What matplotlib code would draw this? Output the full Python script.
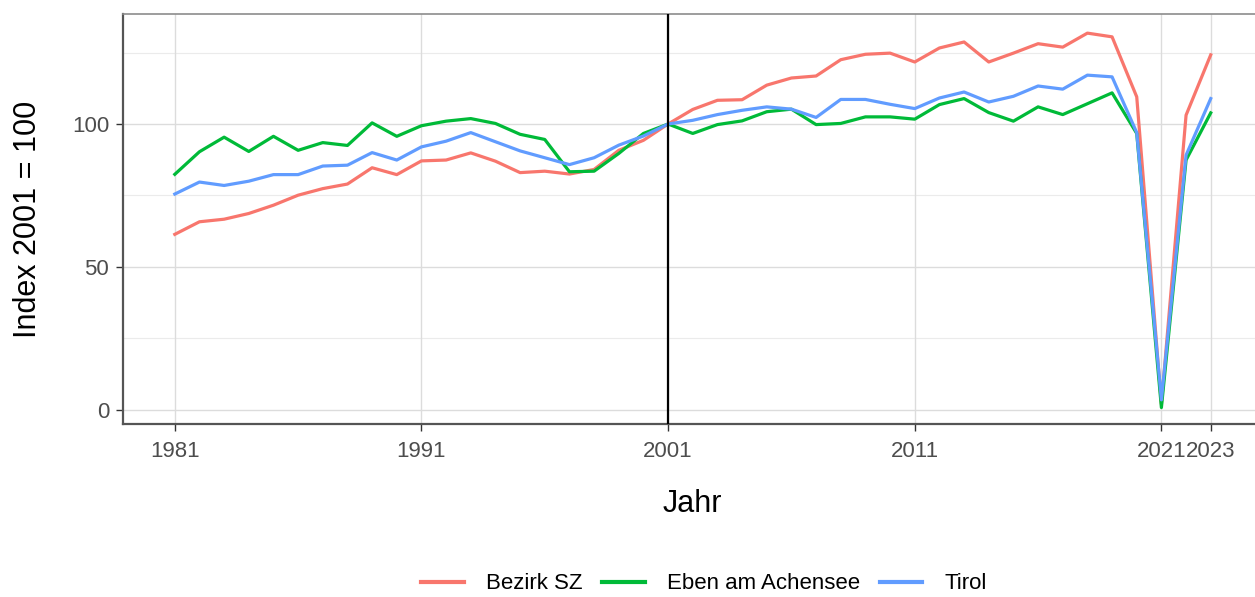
import matplotlib.pyplot as plt

# Index values (2001 = 100)
years = list(range(1981, 2024))

bezirk_sz = [61.4, 65.8, 66.7, 68.7, 71.6, 75.1, 77.4, 79.0, 84.7, 82.3,
             87.1, 87.4, 89.9, 87.0, 83.0, 83.5, 82.5, 84.1, 90.8, 94.3,
             100.0, 105.1, 108.3, 108.5, 113.6, 116.1, 116.8, 122.5, 124.4, 124.8,
             121.7, 126.6, 128.7, 121.7, 124.8, 128.1, 126.9, 131.8, 130.5, 109.5,
             2.0, 103.1, 124.2]

eben = [82.4, 90.3, 95.4, 90.4, 95.7, 90.8, 93.5, 92.5, 100.4, 95.7,
        99.4, 101.0, 101.9, 100.2, 96.4, 94.6, 83.3, 83.5, 89.7, 96.7,
        100.0, 96.7, 99.8, 101.1, 104.3, 105.2, 99.8, 100.2, 102.5, 102.5,
        101.7, 106.8, 108.9, 104.0, 101.0, 106.0, 103.3, 107.1, 110.9, 96.7,
        0.8, 87.4, 103.9]

tirol = [75.5, 79.7, 78.5, 80.0, 82.3, 82.3, 85.3, 85.6, 90.0, 87.4,
         92.0, 94.0, 97.0, 93.8, 90.6, 88.2, 85.8, 88.2, 92.6, 95.8,
         100.0, 101.3, 103.3, 104.8, 106.0, 105.2, 102.3, 108.6, 108.6, 106.9,
         105.4, 109.1, 111.2, 107.7, 109.7, 113.3, 112.2, 117.1, 116.5, 97.0,
         3.5, 89.1, 108.9]

series = [('Bezirk SZ', bezirk_sz, '#F8766D'),
          ('Eben am Achensee', eben, '#00BA38'),
          ('Tirol', tirol, '#619CFF')]

x_breaks = [1981, 1991, 2001, 2011, 2021, 2023]
y_breaks = [0, 50, 100]
y_minor = [25, 75, 125]

plt.rcParams['font.family'] = ['Liberation Sans', 'DejaVu Sans']

fig = plt.figure(figsize=(12.55, 5.97), dpi=100)
ax = fig.add_axes([0.098, 0.29, 0.908, 0.6866])

# grid lines
for y in y_minor:
    ax.axhline(y, color='#EBEBEB', linewidth=0.8, zorder=0)
for y in y_breaks:
    ax.axhline(y, color='#DCDCDC', linewidth=1.0, zorder=0)
for x in x_breaks:
    ax.axvline(x, color='#DCDCDC', linewidth=1.0, zorder=0)

for name, vals, col in series:
    ax.plot(years, vals, color=col, linewidth=2.3, label=name, zorder=2)

ax.axvline(2001, color='black', linewidth=1.6, zorder=3)

ax.set_xlim(1978.9, 2025.1)
ax.set_ylim(-4.9, 138.5)
ax.set_xticks(x_breaks)
ax.set_xticklabels([str(x) for x in x_breaks])
ax.set_yticks(y_breaks)

ax.tick_params(axis='both', labelsize=16, labelcolor='#4D4D4D', color='#333333',
               length=5, width=1, direction='out')
ax.tick_params(axis='x', pad=7)
ax.tick_params(axis='y', pad=5)

for side in ['top', 'right']:
    ax.spines[side].set_color('#8C8C8C')
    ax.spines[side].set_linewidth(1.2)
for side in ['left', 'bottom']:
    ax.spines[side].set_color('#555555')
    ax.spines[side].set_linewidth(1.6)

ax.set_xlabel('Jahr', fontsize=22, labelpad=20)
ax.set_ylabel('Index 2001 = 100', fontsize=22, labelpad=21)

leg = fig.legend(loc='center', bbox_to_anchor=(0.561, 0.022), ncol=3, frameon=False,
                 fontsize=16, handlelength=1.9, columnspacing=0.9, handletextpad=1.0)
for line in leg.get_lines():
    line.set_linewidth(3)

fig.savefig('out.png', dpi=100)
